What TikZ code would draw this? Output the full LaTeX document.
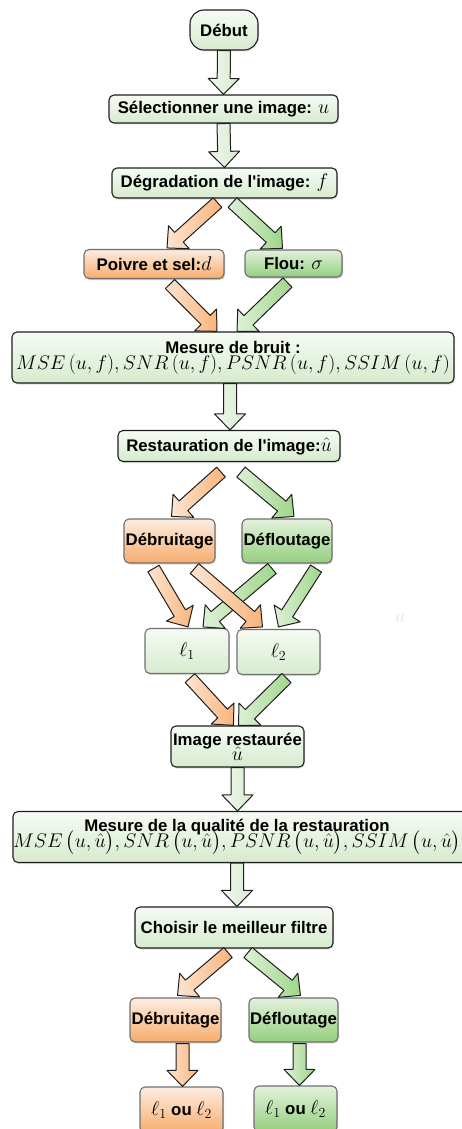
\RequirePackage{fix-cm}
\documentclass[tikz,border=0pt]{standalone}
\usepackage{amsmath,amssymb}
\usepackage[no-math]{fontspec}
\setmainfont{Liberation Sans}
\usepackage{tikz}
\usetikzlibrary{calc,shadows}
\usepackage{xcolor}

\definecolor{vertpale}{HTML}{D6EBCE}
\definecolor{vertclair}{HTML}{F6FBF4}
\definecolor{vertfonce}{HTML}{93CF7D}
\definecolor{vertfleche}{HTML}{9FD68A}
\definecolor{orangefonce}{HTML}{F8AC6C}
\definecolor{orangeclair}{HTML}{FCEDE2}
\definecolor{orangefleche}{HTML}{F9B47C}
\definecolor{bord}{HTML}{1E1E1E}
\definecolor{bordgris}{HTML}{707070}

\newcommand{\grandmath}[1]{{\fontsize{19.8}{21}\selectfont$#1$}}
% fleche epaisse : #1 couleur, #2 depart, #3 arrivee
\newcommand{\flechebloc}[3]{%
  \draw[fleche, left color=#1!35!white, right color=#1]
    let \p1=(#2), \p2=(#3), \n1={atan2(\y2-\y1,\x2-\x1)}, \n2={veclen(\x2-\x1,\y2-\y1)} in
    [shift={(\p1)}, rotate=\n1]
    (0pt,-6.5pt) -- ({\n2*1pt-16pt},-6.5pt) -- ({\n2*1pt-16pt},-15.5pt) -- ({\n2*1pt},0pt)
    -- ({\n2*1pt-16pt},15.5pt) -- ({\n2*1pt-16pt},6.5pt) -- (0pt,6.5pt) -- cycle;}

\tikzset{
  boite/.style={draw=bord, line width=1.1pt, rounded corners=5pt, top color=vertclair, bottom color=vertpale,
    font=\fontsize{16.8}{18}\selectfont\bfseries, align=center, inner sep=0pt,
    drop shadow={opacity=0.25, shadow xshift=1pt, shadow yshift=-1.5pt}},
  pilule/.style={boite, rounded corners=12pt},
  boiteorange/.style={boite, draw=bordgris, top color=orangeclair, bottom color=orangefonce},
  boitevert/.style={boite, draw=bordgris, top color=vertpale!70!white, bottom color=vertfonce},
  boitel/.style={boite, draw=bordgris},
  fleche/.style={draw=bord, line width=1pt, line join=round},
}

\begin{document}
\begin{tikzpicture}[x=1pt, y=-1pt]
\useasboundingbox (0,0) rectangle (462,1129);
\clip (0,0) rectangle (462,1129);
% Debut et preparation
\node[pilule, rounded corners=14pt, minimum width=68pt, minimum height=40pt] (debut) at (224,30) {Début};
\node[boite, minimum width=229pt, minimum height=28pt] (select) at (223.5,109) {Sélectionner une image: \grandmath{u}};
\node[boite, minimum width=225pt, minimum height=30pt] (degrad) at (224.5,183) {Dégradation de l\textquotesingle image: \grandmath{f}};
% Types de degradation
\node[pilule, boiteorange, minimum width=140pt, minimum height=29pt] (poivre) at (154,264) {Poivre et sel:\grandmath{d}};
\node[pilule, boitevert, minimum width=97pt, minimum height=27pt] (flou) at (293.5,263.5) {Flou: \grandmath{\sigma}};
% Mesure du bruit
\node[boite, minimum width=442pt, minimum height=51pt] (bruit) at (233,357.5)
  {Mesure de bruit :\\[-2pt] \grandmath{{MSE\left(u,f\right)}, {SNR\left(u,f\right)}, {PSNR\left(u,f\right)}, {SSIM\left(u,f\right)}}};
\node[boite, minimum width=222pt, minimum height=31pt] (restau) at (229,446) {Restauration de l\textquotesingle image:\grandmath{\hat{u}}};
% Filtres
\node[boiteorange, minimum width=91pt, minimum height=44pt] (debr) at (169.5,541) {Débruitage};
\node[boitevert, minimum width=90pt, minimum height=44pt] (deflou) at (287,541) {Défloutage};
\node[boitel, minimum width=84pt, minimum height=45pt] (lun) at (187,651) {\grandmath{\ell_1}};
\node[boitel, minimum width=83pt, minimum height=45pt] (ldeux) at (278.5,652) {\grandmath{\ell_2}};
\node[text=black!10] (fantome) at (400,618) {\grandmath{u}};
% Evaluation
\node[boite, minimum width=133pt, minimum height=41pt] (imrest) at (237.5,746.5) {Image restaurée\\[-3pt] \grandmath{\hat{u}}};
\node[boite, minimum width=454pt, minimum height=51pt] (qual) at (240,837)
  {\hspace*{-6pt}Mesure de la qualité de la restauration\\[-5pt] \hspace*{-6pt}\grandmath{{MSE\,\bigl(u,\hat{u}\bigr)}, {SNR\,\bigl(u,\hat{u}\bigr)}, {PSNR\,\bigl(u,\hat{u}\bigr)}, {SSIM\,\bigl(u,\hat{u}\bigr)}}};
\node[boite, minimum width=198pt, minimum height=41pt] (choisir) at (234,927.5) {Choisir le meilleur filtre};
\node[boiteorange, minimum width=91pt, minimum height=44pt] (debrb) at (175.5,1020) {Débruitage};
\node[boitevert, minimum width=89pt, minimum height=44pt] (defloub) at (293.5,1020) {Défloutage};
\node[boiteorange, minimum width=83pt, minimum height=46pt] (finun) at (181.5,1110) {\grandmath{\ell_1} ou \grandmath{\ell_2}};
\node[boitevert, minimum width=83pt, minimum height=46pt] (findeux) at (295.5,1109) {\grandmath{\ell_1} ou \grandmath{\ell_2}};
% Fleches
\flechebloc{vertpale}{debut.south}{select.north}
\flechebloc{vertpale}{select.south}{degrad.north}
\flechebloc{orangefleche}{$(degrad.south)+(-7,4)$}{$(poivre.north)+(13,-1)$}
\flechebloc{vertfleche}{$(degrad.south)+(8,4)$}{$(flou.north)+(-11,-1)$}
\flechebloc{orangefleche}{$(poivre.south)+(16,5)$}{$(bruit.north)+(-16,0)$}
\flechebloc{vertfleche}{$(flou.south)+(-6,5)$}{$(bruit.north)+(4,0)$}
\flechebloc{vertpale}{$(restau.north |- bruit.south)+(1,0)$}{$(restau.north)+(1,0)$}
\flechebloc{orangefleche}{$(restau.south)+(-8,10)$}{$(debr.north)+(2,-2)$}
\flechebloc{vertfleche}{$(restau.south)+(12,10)$}{$(deflou.north)+(7,-2)$}
\flechebloc{vertfleche}{$(deflou.south)+(-15,5)$}{$(lun.north)+(16,-1)$}
\flechebloc{vertfleche}{$(deflou.south)+(29,5)$}{$(ldeux.north)+(0,-2)$}
\flechebloc{orangefleche}{$(debr.south)+(-16,5)$}{$(lun.north)+(1,-1)$}
\flechebloc{orangefleche}{$(debr.south)+(25,5)$}{$(ldeux.north)+(-16,-2)$}
\flechebloc{orangefleche}{$(lun.south)+(3,4)$}{$(imrest.north)+(-4,0)$}
\flechebloc{vertfleche}{$(ldeux.south)+(8,3)$}{$(imrest.north)+(1,0)$}
\flechebloc{vertpale}{imrest.south}{imrest.south |- qual.north}
\flechebloc{vertpale}{$(qual.south)+(-3,0)$}{$(qual.south |- choisir.north)+(-3,0)$}
\flechebloc{orangefleche}{$(choisir.south)+(-6,4)$}{$(debrb.north)+(2,-2)$}
\flechebloc{vertfleche}{$(choisir.south)+(14,4)$}{$(defloub.north)+(7,-2)$}
\flechebloc{orangefleche}{$(finun.north |- debrb.south)+(1,1)$}{$(finun.north)+(1,0)$}
\flechebloc{vertfleche}{$(findeux.north |- defloub.south)+(4,1)$}{$(findeux.north)+(4,0)$}
\end{tikzpicture}
\end{document}
